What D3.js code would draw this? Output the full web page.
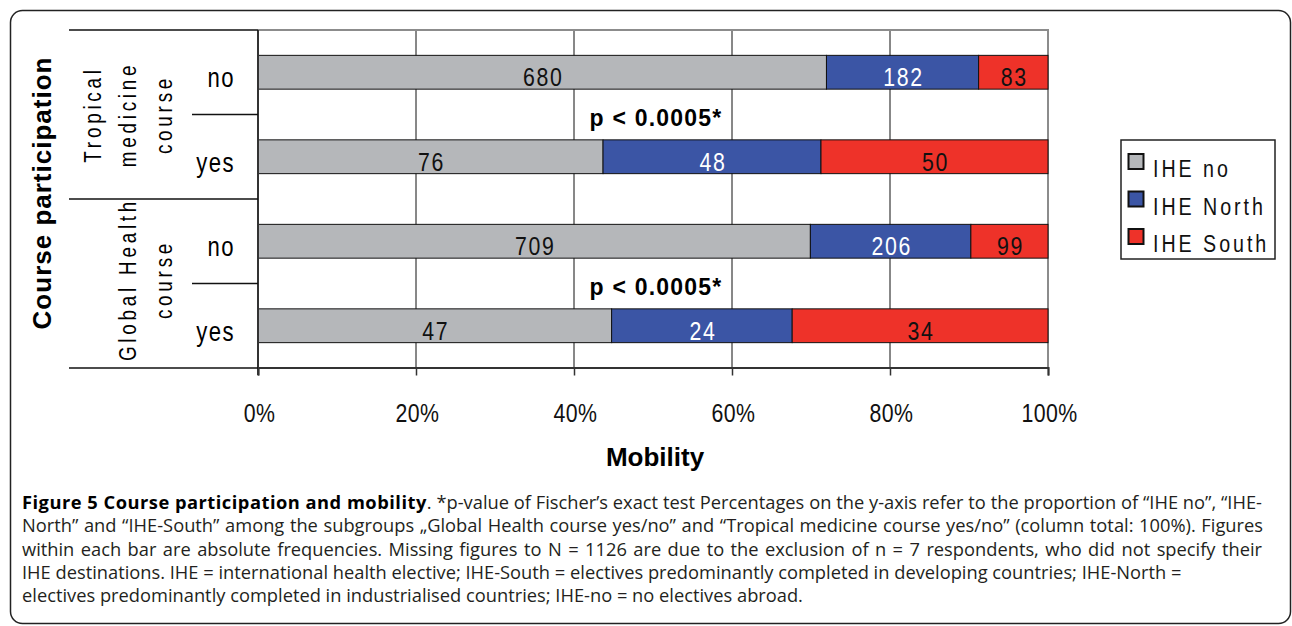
<!DOCTYPE html>
<html>
<head>
<meta charset="utf-8">
<script src="https://cdn.jsdelivr.net/npm/d3@7"></script>
<style>
  html, body { margin: 0; padding: 0; background: #fff; }
  text.narrow { font-family: "Liberation Sans", Arial, sans-serif; }
</style>
</head>
<body>
<div id="chart"></div>
<script>
// rows top to bottom
const rowGroup = ["Tropical medicine course", "Tropical medicine course", "Global Health course", "Global Health course"];
const rowAnswer = ["no", "yes", "no", "yes"];
const ihe_no = [680, 76, 709, 47];
const ihe_north = [182, 48, 206, 24];
const ihe_south = [83, 50, 99, 34];
const seriesNames = ["IHE no", "IHE North", "IHE South"];
const seriesColors = ["#b5b7ba", "#3b55a5", "#ee3229"];
const labelColors = ["#111", "#fff", "#111"];
const groupNames = ["Tropical medicine course", "Global Health course"];
const groupLines = [["Tropical", "medicine", "course"], ["Global Health", "course"]];
const pLabels = ["p < 0.0005*", "p < 0.0005*"];
const xTicks = [0, 0.2, 0.4, 0.6, 0.8, 1];

const captionBold = "Figure 5 Course participation and mobility";
const captionLines = [
  ". *p-value of Fischer\u2019s exact test Percentages on the y-axis refer to the proportion of \u201cIHE no\u201d, \u201cIHE-",
  "North\u201d and \u201cIHE-South\u201d among the subgroups \u201eGlobal Health course yes/no\u201d and \u201cTropical medicine course yes/no\u201d (column total: 100%). Figures",
  "within each bar are absolute frequencies. Missing figures to N = 1126 are due to the exclusion of n = 7 respondents, who did not specify their",
  "IHE destinations. IHE = international health elective; IHE-South = electives predominantly completed in developing countries; IHE-North =",
  "electives predominantly completed in industrialised countries; IHE-no = no electives abroad."
];
const captionWidths = [1240, 1241, 1240, null, null];

const width = 1292, height = 626;
const SQ = 0.82; // horizontal squeeze for the narrow chart font

const svg = d3.select("#chart").append("svg")
  .attr("width", width).attr("height", height)
  .attr("viewBox", [0, 0, width, height]);

// narrow text: squeeze along the text direction
function narrow(sel, px, py, rot) {
  sel.attr("class", "narrow")
    .attr("transform", (d, i) => {
      const X = typeof px === "function" ? px(d, i) : px;
      const Y = typeof py === "function" ? py(d, i) : py;
      return `translate(${X},${Y})${rot ? ` rotate(${rot})` : ""} scale(${SQ},1)`;
    });
  return sel;
}

// frame
svg.append("rect")
  .attr("x", 10.5).attr("y", 10.5).attr("width", 1280).attr("height", 613)
  .attr("rx", 12).attr("fill", "none").attr("stroke", "#222").attr("stroke-width", 1.5);

const table = rowAnswer.map((a, i) => ({
  key: i, answer: a, group: rowGroup[i],
  "IHE no": ihe_no[i], "IHE North": ihe_north[i], "IHE South": ihe_south[i]
}));

const stacked = d3.stack().keys(seriesNames).offset(d3.stackOffsetExpand)(table);

const x = d3.scaleLinear().domain([0, 1]).range([258, 1048]);
const y = d3.scaleBand().domain(d3.range(table.length)).range([30, 368])
  .paddingInner(0.6).paddingOuter(0.3);
const gap = y.step() * 0.6;

// vertical gridlines
svg.append("g").selectAll("line")
  .data(xTicks.filter(t => t > 0 && t < 1))
  .join("line")
  .attr("x1", d => x(d)).attr("x2", d => x(d))
  .attr("y1", 30).attr("y2", 368)
  .attr("stroke", "#111").attr("stroke-width", 1);

// plot border (top, right)
svg.append("path")
  .attr("d", `M${x(0)},30H${x(1)}V368`)
  .attr("fill", "none").attr("stroke", "#8c8c8c").attr("stroke-width", 2);

// bars
svg.append("g").selectAll("g")
  .data(stacked).join("g")
  .attr("fill", (d, i) => seriesColors[i])
  .selectAll("rect")
  .data(d => d).join("rect")
  .attr("x", d => x(d[0]))
  .attr("y", (d, i) => y(i))
  .attr("width", d => x(d[1]) - x(d[0]))
  .attr("height", y.bandwidth())
  .attr("stroke", "#111").attr("stroke-width", 1);

// values inside bars
svg.append("g").selectAll("g")
  .data(stacked).join("g")
  .attr("fill", (d, i) => labelColors[i])
  .selectAll("text")
  .data(d => d.map(v => ({ v, key: d.key }))).join("text")
  .call(narrow, d => (x(d.v[0]) + x(d.v[1])) / 2 + 1, (d, i) => y(i) + y.bandwidth() / 2 + 14)
  .attr("text-anchor", "middle")
  .attr("font-size", 26).attr("letter-spacing", 2)
  .text(d => d.v.data[d.key]);

// p-value labels, between the two bars of each group
svg.append("g").selectAll("text")
  .data(pLabels).join("text")
  .attr("x", x(0.5) + 3)
  .attr("y", (d, i) => y(i * 2) + y.bandwidth() + 36.5)
  .attr("text-anchor", "middle")
  .attr("font-family", "'Liberation Sans', Arial, sans-serif")
  .attr("font-weight", "bold").attr("font-size", 23).attr("letter-spacing", 1.2)
  .text(d => d);

// x axis
const xAxis = d3.axisBottom(x).tickValues(xTicks).tickSize(8).tickFormat(d3.format(".0%"));
const gx = svg.append("g").attr("transform", "translate(0,367.5)").call(xAxis);
gx.select(".domain").attr("stroke", "#333").attr("stroke-width", 2);
gx.selectAll(".tick line").attr("stroke", "#333").attr("stroke-width", 1.5);
gx.selectAll(".tick text")
  .attr("x", null).attr("y", null).attr("dy", null)
  .call(narrow, 1, 54.5)
  .attr("font-size", 26).attr("letter-spacing", 0.5).attr("fill", "#111");

// y axis line
svg.append("line")
  .attr("x1", x(0)).attr("x2", x(0)).attr("y1", 30).attr("y2", 375)
  .attr("stroke", "#333").attr("stroke-width", 2);

// category table on the left
const bounds = d3.range(table.length + 1).map(i =>
  i < table.length ? y(i) - gap / 2 : y(i - 1) + y.bandwidth() + gap / 2);
svg.append("g").attr("stroke", "#111").attr("stroke-width", 1.5)
  .selectAll("line").data(bounds).join("line")
  .attr("x1", (d, i) => i % 2 === 0 ? 69 : 192).attr("x2", x(0))
  .attr("y1", d => d).attr("y2", d => d);

svg.append("g").selectAll("text")
  .data(rowAnswer).join("text")
  .call(narrow, 235, (d, i) => y(i) + y.bandwidth() / 2 + 15)
  .attr("text-anchor", "end")
  .attr("font-size", 27).attr("letter-spacing", 1.8)
  .text(d => d);

const lineX = [101, 136, 172];
const groupShift = [0, -4];
groupNames.forEach((g, gi) => {
  const cy = (bounds[gi * 2] + bounds[gi * 2 + 2]) / 2 + groupShift[gi];
  const lines = groupLines[gi];
  svg.append("g").selectAll("text")
    .data(lines).join("text")
    .call(narrow, (d, li) => lineX[lineX.length - lines.length + li], cy, -90)
    .attr("text-anchor", "middle")
    .attr("font-size", 23).attr("letter-spacing", 4.6)
    .text(d => d);
});

// axis titles
svg.append("text")
  .attr("transform", "translate(51,193) rotate(-90)")
  .attr("text-anchor", "middle")
  .attr("font-family", "'Liberation Sans', Arial, sans-serif")
  .attr("font-weight", "bold").attr("font-size", 26).attr("letter-spacing", 1)
  .text("Course participation");

svg.append("text")
  .attr("x", x(0.5) + 2).attr("y", 466)
  .attr("text-anchor", "middle")
  .attr("font-family", "'Liberation Sans', Arial, sans-serif")
  .attr("font-weight", "bold").attr("font-size", 26)
  .text("Mobility");

// legend
const lg = svg.append("g");
lg.append("rect")
  .attr("x", 1121).attr("y", 140).attr("width", 154).attr("height", 119)
  .attr("fill", "#fff").attr("stroke", "#222").attr("stroke-width", 1.5);
const li = lg.selectAll("g").data(seriesNames).join("g")
  .attr("transform", (d, i) => `translate(0,${168 + i * 37.5})`);
li.append("rect")
  .attr("x", 1128.5).attr("y", -14).attr("width", 15).attr("height", 15)
  .attr("fill", (d, i) => seriesColors[i])
  .attr("stroke", "#111").attr("stroke-width", 2);
li.append("text")
  .call(narrow, 1153, 9)
  .attr("font-size", 24).attr("letter-spacing", 3.6)
  .attr("fill", "#111")
  .text(d => d);

// caption
const cap = svg.append("g")
  .attr("font-family", "'Open Sans', 'Noto Sans', sans-serif")
  .attr("font-size", 18.3).attr("fill", "#231f20");
captionLines.forEach((ln, i) => {
  const t = cap.append("text").attr("x", 22).attr("y", 509 + i * 23.3);
  if (i === 0) {
    t.append("tspan").attr("font-weight", "bold").attr("fill", "#000")
      .attr("letter-spacing", 0.5).text(captionBold);
  }
  const rest = t.append("tspan").text(ln);
  if (captionWidths[i]) {
    const natural = t.node().getComputedTextLength();
    const spaces = (ln.match(/ /g) || []).length;
    rest.attr("word-spacing", (captionWidths[i] - natural) / spaces);
  }
});
</script>
</body>
</html>
